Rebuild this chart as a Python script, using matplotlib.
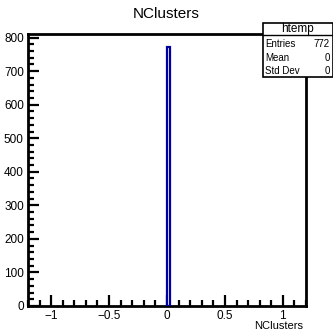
import matplotlib
matplotlib.use("Agg")
import matplotlib.pyplot as plt
from matplotlib.patches import Rectangle
from matplotlib.lines import Line2D
from matplotlib.ticker import MultipleLocator, FuncFormatter

plt.rcParams['font.family'] = ['Liberation Sans', 'DejaVu Sans']

title = "NClusters"
xlabel = "NClusters"
bin_left = [0.0]
bin_width = [0.024]
counts = [772]
x_range = [-1.2, 1.2]
stats_name = "htemp"
stats_labels = ["Entries", "Mean", "Std Dev"]
stats_values = ["772", "0", "0"]

W, H = 333, 334
fig = plt.figure(figsize=(W / 100, H / 100), dpi=100)
ax = fig.add_axes([28 / W, 1 - 306 / H, (306 - 28) / W, (306 - 34) / H])

ax.bar(bin_left, counts, width=bin_width, align='edge', facecolor='white',
       edgecolor='#0000a0', linewidth=1.6, zorder=3)

ax.set_xlim(*x_range)
ax.set_ylim(0, max(counts) * 1.05)

ax.xaxis.set_major_locator(MultipleLocator(0.5))
ax.xaxis.set_minor_locator(MultipleLocator(0.1))
ax.yaxis.set_major_locator(MultipleLocator(100))
ax.yaxis.set_minor_locator(MultipleLocator(20))

ax.tick_params(which='both', direction='in', top=False, right=False,
               width=1.6, labelsize=8.5, pad=3)
ax.tick_params(which='major', length=8)
ax.tick_params(which='minor', length=4)
for s in ax.spines.values():
    s.set_linewidth(2)

def fmt(v, pos):
    if abs(v) < 1e-9:
        return "0"
    return ("%g" % v).replace("-", "\u2212")

ax.xaxis.set_major_formatter(FuncFormatter(fmt))
ax.yaxis.set_major_formatter(FuncFormatter(lambda v, p: "%d" % v))

fig.text(166 / W, 1 - 14 / H, title, ha='center', va='center', fontsize=11)
fig.text(303 / W, 1 - 326 / H, xlabel, ha='right', va='center', fontsize=8)

# stats box
bx0, bx1 = 263 / W, 332.5 / W
by_top, by_head, by_bot = 1 - 23 / H, 1 - 35 / H, 1 - 77 / H
fig.patches.append(Rectangle((bx0, by_bot), bx1 - bx0, by_top - by_bot,
                             transform=fig.transFigure, facecolor='white',
                             edgecolor='black', linewidth=1.2, zorder=10))
fig.lines.append(Line2D([bx0, bx1], [by_head, by_head], transform=fig.transFigure,
                        color='black', linewidth=1.0, zorder=11))
fig.text((bx0 + bx1) / 2, (by_top + by_head) / 2, stats_name, ha='center',
         va='center', fontsize=8.5, zorder=12)
row_centers = [44, 58, 71.5]
for yc_px, lab, val in zip(row_centers, stats_labels, stats_values):
    yc = 1 - yc_px / H
    fig.text(bx0 + 2 / W, yc, lab, ha='left', va='center', fontsize=7, zorder=12)
    fig.text(bx1 - 2.5 / W, yc, val, ha='right', va='center', fontsize=7, zorder=12)

fig.savefig("out.png", dpi=100)
